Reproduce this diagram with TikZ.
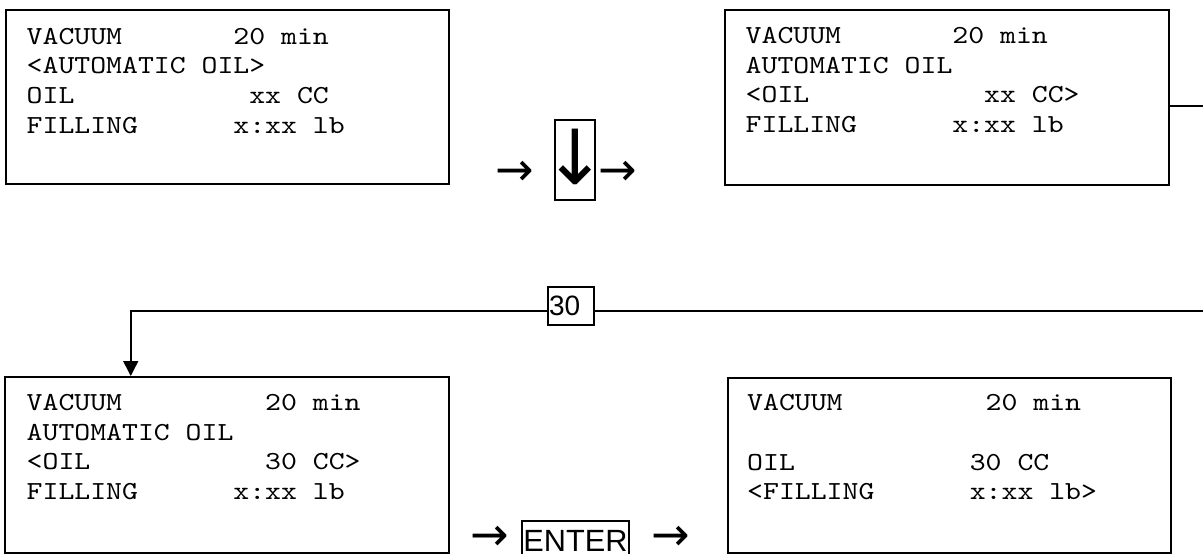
\documentclass[tikz,border=0pt]{standalone}
\usepackage{fontspec}
\setmainfont{Liberation Sans}
\newfontfamily\cour{lmmono10-regular}[Extension=.otf, FakeStretch=1.165]
\newfontfamily\sym{DejaVu Sans}
\usetikzlibrary{calc,arrows.meta}
\newlength\cw
\newcommand\scr{\fontsize{26}{30}\cour\settowidth\cw{M}}
\newcommand\lr[3]{\makebox[#1\cw][l]{#2}#3}
\newcommand\rarr{\makebox[26pt]{→}}
\tikzset{
  screen/.style={draw, line width=1.5pt, inner sep=0pt, anchor=north west},
  row/.style={anchor=base west, inner sep=0pt, font=\scr},
  keybox/.style={draw, line width=1.5pt, inner sep=0pt},
  arrowchar/.style={inner sep=0pt, font=\fontsize{46}{46}\sym, text height=25.8pt, text depth=-7.4pt},
  wire/.style={line width=1.5pt},
}
\begin{document}
\begin{tikzpicture}[x=1pt,y=-1pt]
\useasboundingbox (0,0) rectangle (1203,554);
% screens
\node[screen, minimum width=443pt, minimum height=174pt] (b1) at (5,9) {};
\node[screen, minimum width=444pt, minimum height=175pt] (b2) at (724,9) {};
\node[screen, minimum width=444pt, minimum height=176pt] (b3) at (4,376) {};
\node[screen, minimum width=443pt, minimum height=175pt] (b4) at (727,377) {};
% screen 1
\node[row] (t11) at ($(b1.north west)+(21.5,35)$) {\lr{13}{VACUUM}{20 min}};
\node[row] (t12) at ($(b1.north west)+(21.5,64.7)$) {<AUTOMATIC OIL>};
\node[row] (t13) at ($(b1.north west)+(21.5,94.4)$) {\lr{14}{OIL}{xx CC}};
\node[row] (t14) at ($(b1.north west)+(21.5,124.1)$) {\lr{13}{FILLING}{x:xx lb}};
% screen 2
\node[row] (t21) at ($(b2.north west)+(21.5,34.5)$) {\lr{13}{VACUUM}{20 min}};
\node[row] (t22) at ($(b2.north west)+(21.5,64.2)$) {AUTOMATIC OIL};
\node[row] (t23) at ($(b2.north west)+(21.5,93.9)$) {\lr{15}{<OIL}{xx CC>}};
\node[row] (t24) at ($(b2.north west)+(21.5,123.6)$) {\lr{13}{FILLING}{x:xx lb}};
% screen 3
\node[row] (t31) at ($(b3.north west)+(22.5,34.5)$) {\lr{15}{VACUUM}{20 min}};
\node[row] (t32) at ($(b3.north west)+(22.5,64.2)$) {AUTOMATIC OIL};
\node[row] (t33) at ($(b3.north west)+(22.5,93.9)$) {\lr{15}{<OIL}{30 CC>}};
\node[row] (t34) at ($(b3.north west)+(22.5,123.6)$) {\lr{13}{FILLING}{x:xx lb}};
% screen 4
\node[row] (t41) at ($(b4.north west)+(20,33.5)$) {\lr{15}{VACUUM}{20 min}};
\node[row] (t43) at ($(b4.north west)+(20,93)$) {\lr{14}{OIL}{30 CC}};
\node[row] (t44) at ($(b4.north west)+(20,122.7)$) {\lr{14}{<FILLING}{x:xx lb>}};
% keys and arrows, top row
\node[arrowchar] (a1) at (514.5,173) {\rarr};
\node[keybox, minimum width=40pt, minimum height=80pt] (kdown) at (575,160) {};
\node[inner sep=0pt, font=\fontsize{76}{76}\sym] (darr) at (575,157) {\makebox[34pt]{↓}};
\node[arrowchar] (a2) at (618,173) {\rarr};
% keys and arrows, bottom row
\node[arrowchar] (a3) at (489.5,538) {\rarr};
\node[keybox, minimum width=107pt, minimum height=40pt, font=\fontsize{30.7}{30.7}\selectfont] (kenter) at (575.5,541) {ENTER};
\node[arrowchar] (a4) at (670.5,538) {\rarr};
% connector with "30"
\node[keybox, minimum width=46pt, minimum height=38pt, font=\fontsize{28}{28}\selectfont] (k30) at (571,306) {\makebox[44pt][l]{30}};
\draw[wire] ([yshift=-8.5pt]b2.east) -- ++(34,0) |- ([yshift=-5pt]k30.east);
\draw[wire,-{Triangle[width=15pt,length=15pt]}] ([yshift=-5pt]k30.west) -| ([xshift=-96pt]b3.north);
\end{tikzpicture}
\end{document}
